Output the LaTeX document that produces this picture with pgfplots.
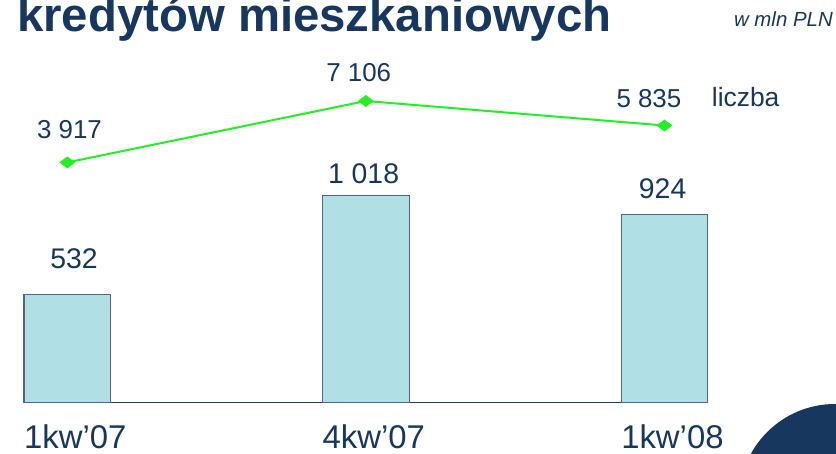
\documentclass[border=0pt]{standalone}
\usepackage{pgfplots}
\pgfplotsset{compat=1.18}
\usepackage{pgfplotstable}
\usepackage{fontspec}
\setmainfont{Liberation Sans}
\definecolor{navy}{RGB}{23,55,94}
\definecolor{axisnavy}{RGB}{31,58,96}
\definecolor{barfill}{RGB}{176,223,229}
\definecolor{barline}{RGB}{80,102,135}
\definecolor{lgreen}{RGB}{34,240,34}

\pgfplotstableread{
x y dx dy
0 532 6.7 25.3
1 1018 -2.3 12.3
2 924 -1.8 16.4
}\bartab
\pgfplotstableread{
x y dx dy
0 3917 2.2 23.5
1 7106 -7.1 19.3
2 5835 -15.5 17.5
}\linetab

\begin{document}
\begin{tikzpicture}[x=1bp,y=1bp]
\useasboundingbox (0,0) rectangle (836,454);
\clip (0,0) rectangle (836,454);
\fill[navy] (835,-46) circle (96);
\node[anchor=base west, inner sep=0, text=navy, font=\fontsize{47.5}{50}\selectfont\bfseries] at (17,422.3) {kredytów mieszkaniowych};
\node[anchor=base east, inner sep=0, text=navy, font=\fontsize{20.5}{22}\selectfont\itshape] at (833,427.3) {w mln PLN};
\node[anchor=base west, inner sep=0, text=navy, font=\fontsize{26.5}{28}\selectfont] at (711.7,347.3) {liczba};

\begin{axis}[
  at={(24bp,51.7bp)}, anchor=south west,
  scale only axis, width=683.7bp, height=203bp,
  xmin=-0.145, xmax=2.145, ymin=0, ymax=1000,
  axis x line=bottom, axis y line=none,
  axis line style={-, draw=axisnavy, line width=1.5bp},
  xtick={0,1,2}, xticklabels={1kw’07,4kw’07,1kw’08},
  major tick length=0,
  xticklabel style={anchor=base, yshift=-46.2bp, xshift=8bp, text=navy, font=\fontsize{33}{35}\selectfont, inner sep=0},
  ytick=\empty,
  clip=false,
  ybar, bar width=86.5bp, bar shift=0pt,
  nodes near coords,
  /pgf/number format/.cd, fixed, precision=0, 1000 sep={\ }, assume math mode=true, /pgfplots/.cd,
  visualization depends on={\thisrow{dx} \as \labdx},
  visualization depends on={\thisrow{dy} \as \labdy},
  every node near coord/.append style={anchor=base, xshift={\labdx*1bp}, yshift={\labdy*1bp}, text=navy, font=\fontsize{28.5}{30}\selectfont, inner sep=0},
]
\addplot[fill=barfill, draw=barline, line width=1.2bp] table[x=x,y=y] {\bartab};
\end{axis}

\begin{axis}[
  at={(24bp,216.06bp)}, anchor=south west,
  scale only axis, width=683.7bp, height=192.68bp,
  xmin=-0.145, xmax=2.145, ymin=0, ymax=10000,
  hide axis, clip=false,
  nodes near coords,
  /pgf/number format/.cd, fixed, precision=0, 1000 sep={\ }, assume math mode=true, /pgfplots/.cd,
  visualization depends on={\thisrow{dx} \as \labdx},
  visualization depends on={\thisrow{dy} \as \labdy},
  every node near coord/.append style={anchor=base, xshift={\labdx*1bp}, yshift={\labdy*1bp}, text=navy, font=\fontsize{26}{28}\selectfont, inner sep=0},
]
\addplot[color=lgreen, line width=2bp, mark=diamond*, mark size=7.5bp, mark options={rotate=90, fill=lgreen, draw=lgreen, line width=0.5bp}] table[x=x,y=y] {\linetab};
\end{axis}
\end{tikzpicture}
\end{document}
